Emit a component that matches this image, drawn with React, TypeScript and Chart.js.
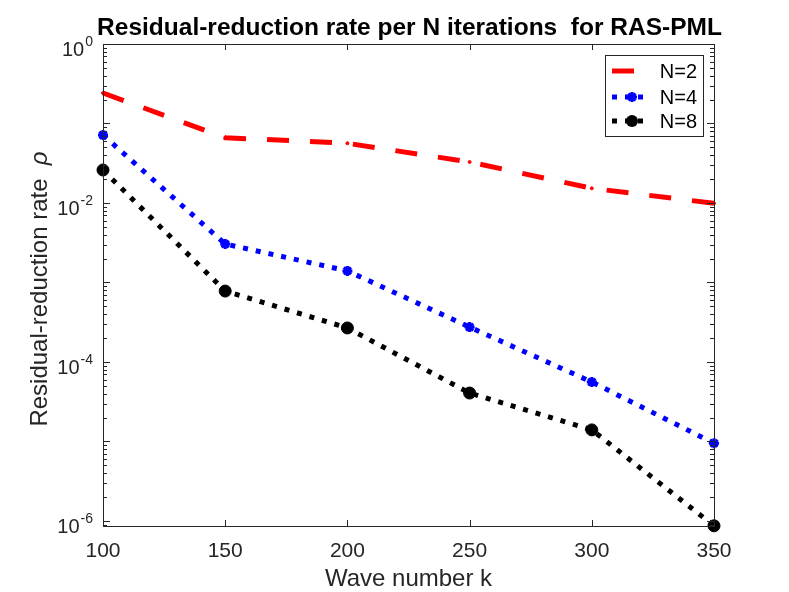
import { useEffect, useRef } from 'react';
import Chart from 'chart.js/auto';

const waveNumbers = [100, 150, 200, 250, 300, 350];
const rateN2 = [0.242, 0.0663, 0.0564, 0.0328, 0.0153, 0.0099];
const rateN4 = [0.0716, 0.00305, 0.0014, 0.000275, 0.000056, 0.0000095];
const rateN8 = [0.026, 0.00078, 0.000268, 0.0000407, 0.000014, 0.00000087];

const xTicks = [100, 150, 200, 250, 300, 350];
const yLabelExponents = [0, -2, -4, -6];

const AXIS_COLOR = '#262626';
const FONT = '"Liberation Sans", Arial, Helvetica, sans-serif';

const seriesStyles = [
  { label: 'N=2', data: rateN2, color: '#ff0000', dash: [22, 21], width: 5, point: 'circle', radius: 1.5 },
  { label: 'N=4', data: rateN4, color: '#0000ff', dash: [5, 8], width: 5, point: 'star', radius: 5 },
  { label: 'N=8', data: rateN8, color: '#000000', dash: [5, 8], width: 5, point: 'circle', radius: 6 },
];

// MATLAB-like axes, tick labels, titles and legend
const matlabAxes = {
  id: 'matlabAxes',
  afterDraw(chart: Chart) {
    const { ctx, chartArea } = chart;
    const { left, right, top, bottom } = chartArea;
    const xs = chart.scales.x;
    const ys = chart.scales.y;

    ctx.save();
    ctx.strokeStyle = AXIS_COLOR;
    ctx.lineWidth = 1;
    ctx.setLineDash([]);
    ctx.strokeRect(left + 0.5, top + 0.5, right - left, bottom - top);

    // x ticks (inward, bottom and top)
    ctx.beginPath();
    xTicks.forEach((t) => {
      const px = Math.round(xs.getPixelForValue(t)) + 0.5;
      ctx.moveTo(px, bottom);
      ctx.lineTo(px, bottom - 6);
      ctx.moveTo(px, top);
      ctx.lineTo(px, top + 6);
    });
    // y ticks, majors at decades, minors between
    const yMin = ys.min;
    const yMax = ys.max;
    for (let d = -7; d <= 0; d++) {
      for (let m = 1; m <= 9; m++) {
        const v = m * Math.pow(10, d);
        if (v < yMin || v > yMax * 1.0001) continue;
        const py = Math.round(ys.getPixelForValue(v)) + 0.5;
        const len = m === 1 ? 7 : 4;
        ctx.moveTo(left, py);
        ctx.lineTo(left + len, py);
        ctx.moveTo(right, py);
        ctx.lineTo(right - len, py);
      }
    }
    ctx.stroke();

    // x tick labels
    ctx.fillStyle = AXIS_COLOR;
    ctx.font = `21px ${FONT}`;
    ctx.textAlign = 'center';
    ctx.textBaseline = 'alphabetic';
    xTicks.forEach((t) => {
      ctx.fillText(String(t), xs.getPixelForValue(t), bottom + 31);
    });

    // y tick labels 10^n
    yLabelExponents.forEach((e) => {
      const py = ys.getPixelForValue(Math.pow(10, e));
      const sup = e === 0 ? '0' : `-${Math.abs(e)}`;
      ctx.font = `14px ${FONT}`;
      const supW = ctx.measureText(sup).width;
      ctx.textAlign = 'right';
      ctx.fillText(sup, left - 10, py + 2);
      ctx.font = `20px ${FONT}`;
      ctx.fillText('10', left - 10 - supW - 1, py + 12);
    });

    // title
    ctx.fillStyle = '#000000';
    ctx.font = `bold 24.5px ${FONT}`;
    ctx.textAlign = 'center';
    ctx.fillText('Residual-reduction rate per N iterations  for RAS-PML', (left + right) / 2 + 1, 35);

    // x axis label
    ctx.fillStyle = AXIS_COLOR;
    ctx.font = `24px ${FONT}`;
    ctx.fillText('Wave number k', (left + right) / 2, 586);

    // y axis label with italic rho
    ctx.save();
    ctx.translate(47, 289);
    ctx.rotate(-Math.PI / 2);
    const main = 'Residual-reduction rate  ';
    ctx.font = `24px ${FONT}`;
    const mainW = ctx.measureText(main).width;
    ctx.font = `italic 24px ${FONT}`;
    const rhoW = ctx.measureText('ρ').width;
    const startX = -(mainW + rhoW) / 2;
    ctx.textAlign = 'left';
    ctx.font = `24px ${FONT}`;
    ctx.fillText(main, startX, 0);
    ctx.font = `italic 24px ${FONT}`;
    ctx.fillText('ρ', startX + mainW, 0);
    ctx.restore();

    // legend
    const boxL = 605;
    const boxT = 55;
    const boxR = 703;
    const boxB = 136;
    ctx.fillStyle = '#ffffff';
    ctx.fillRect(boxL, boxT, boxR - boxL, boxB - boxT);
    ctx.strokeStyle = AXIS_COLOR;
    ctx.lineWidth = 1;
    ctx.strokeRect(boxL + 0.5, boxT + 0.5, boxR - boxL, boxB - boxT);
    const rows = [71, 97, 121];
    seriesStyles.forEach((s, i) => {
      const y = rows[i];
      ctx.save();
      ctx.strokeStyle = s.color;
      ctx.lineWidth = s.width;
      ctx.setLineDash(s.dash);
      ctx.beginPath();
      ctx.moveTo(612, y);
      ctx.lineTo(651, y);
      ctx.stroke();
      ctx.restore();
      if (i > 0) {
        ctx.save();
        ctx.setLineDash([]);
        ctx.fillStyle = s.color;
        ctx.strokeStyle = s.color;
        ctx.lineWidth = 3;
        if (s.point === 'star') {
          ctx.beginPath();
          for (let k = 0; k < 4; k++) {
            const a = (k * Math.PI) / 4;
            ctx.moveTo(632 - 5 * Math.cos(a), y - 5 * Math.sin(a));
            ctx.lineTo(632 + 5 * Math.cos(a), y + 5 * Math.sin(a));
          }
          ctx.stroke();
        } else {
          ctx.beginPath();
          ctx.arc(632, y, 6, 0, Math.PI * 2);
          ctx.fill();
        }
        ctx.restore();
      }
      ctx.fillStyle = '#000000';
      ctx.font = `20px ${FONT}`;
      ctx.textAlign = 'right';
      ctx.fillText(s.label, 697, y + 7);
    });

    ctx.restore();
  },
};

const App = () => {
  const canvasRef = useRef<HTMLCanvasElement | null>(null);
  const chartInstance = useRef<Chart | null>(null);

  useEffect(() => {
    document.body.style.margin = '0';
    if (!canvasRef.current) return;
    const ctx = canvasRef.current.getContext('2d');
    if (!ctx) return;

    if (chartInstance.current) {
      chartInstance.current.destroy();
    }

    chartInstance.current = new Chart(ctx, {
      type: 'line',
      data: {
        datasets: seriesStyles.map((s) => ({
          label: s.label,
          data: waveNumbers.map((k, i) => ({ x: k, y: s.data[i] })),
          borderColor: s.color,
          backgroundColor: s.color,
          borderWidth: s.width,
          borderDash: s.dash,
          borderCapStyle: 'butt' as const,
          pointStyle: s.point as any,
          pointRadius: s.radius,
          pointBorderWidth: s.point === 'star' ? 3 : 1,
          pointBackgroundColor: s.color,
          pointBorderColor: s.color,
          tension: 0,
          fill: false,
          clip: false as any,
        })),
      },
      options: {
        responsive: false,
        animation: false,
        devicePixelRatio: 1,
        layout: {
          padding: { left: 103, top: 44, right: 75, bottom: 66 },
        },
        plugins: {
          legend: { display: false },
          tooltip: { enabled: false },
          title: { display: false },
        },
        scales: {
          x: { type: 'linear', min: 100, max: 350, display: false },
          y: { type: 'logarithmic', min: 8.65e-7, max: 1, display: false },
        },
      },
      plugins: [matlabAxes],
    });

    return () => {
      if (chartInstance.current) {
        chartInstance.current.destroy();
        chartInstance.current = null;
      }
    };
  }, []);

  return (
    <div style={{ width: 789, height: 592, background: '#ffffff' }}>
      <canvas ref={canvasRef} width={789} height={592}></canvas>
    </div>
  );
};

export default App;
